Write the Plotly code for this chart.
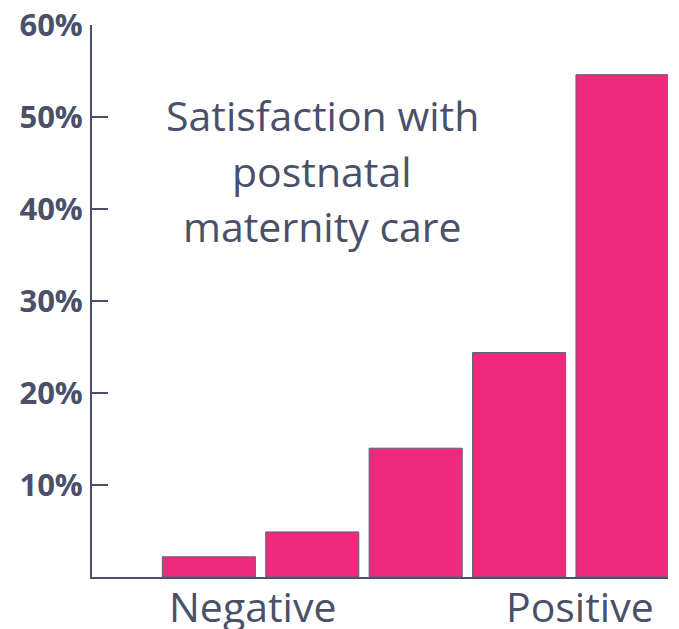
import plotly.graph_objects as go

# Data
categories = [1, 2, 3, 4, 5]
values = [2.2, 4.9, 14.0, 24.4, 54.6]
y_tick_values = [0, 10, 20, 30, 40, 50, 60]
y_tick_labels = ["", "10%", "20%", "30%", "40%", "50%", "60%"]
title_lines = ["Satisfaction with", "postnatal", "maternity care"]
end_labels = ["Negative", "Positive"]

TEXT = "#4a5068"
BAR = "#ee2a7b"

fig = go.Figure(go.Bar(
    x=categories, y=values,
    marker=dict(color=BAR, line=dict(color="#5d6282", width=1)),
    width=0.9,
))

fig.update_layout(
    width=679, height=629,
    margin=dict(l=92, r=11, t=25, b=52),
    plot_bgcolor="white", paper_bgcolor="white",
    showlegend=False,
    font=dict(family="Open Sans", color=TEXT),
)
fig.update_xaxes(
    range=[-0.13, 5.44], showgrid=False, zeroline=False,
    showticklabels=False, ticks="", automargin=False,
    showline=True, linecolor=TEXT, linewidth=2,
)
fig.update_yaxes(
    range=[0, 60], showgrid=False, zeroline=False, automargin=False,
    tickvals=y_tick_values, ticktext=y_tick_labels,
    ticks="inside", ticklen=16, tickwidth=2, tickcolor=TEXT,
    showline=True, linecolor=TEXT, linewidth=2,
    tickfont=dict(family="Open Sans", size=31, color=TEXT, weight="bold"),
    ticklabelstandoff=1,
)

title_y = [50.2, 44.1, 38.1]
for txt, yy in zip(title_lines, title_y):
    fig.add_annotation(text=txt, xref="paper", x=0.40, yref="y", y=yy,
                       showarrow=False, xanchor="center", yanchor="middle",
                       font=dict(family="Open Sans", size=41, color=TEXT))

for txt, xx in zip(end_labels, [0.278, 0.848]):
    fig.add_annotation(text=txt, xref="paper", x=xx, yref="paper", y=-0.053,
                       showarrow=False, xanchor="center", yanchor="middle",
                       font=dict(family="Open Sans", size=41, color=TEXT))

# remove the browser's default 8px body margin so the figure sits at the page origin
fig.write_html("out.html", config={"displayModeBar": False},
               post_script="document.body.style.margin='0';")
